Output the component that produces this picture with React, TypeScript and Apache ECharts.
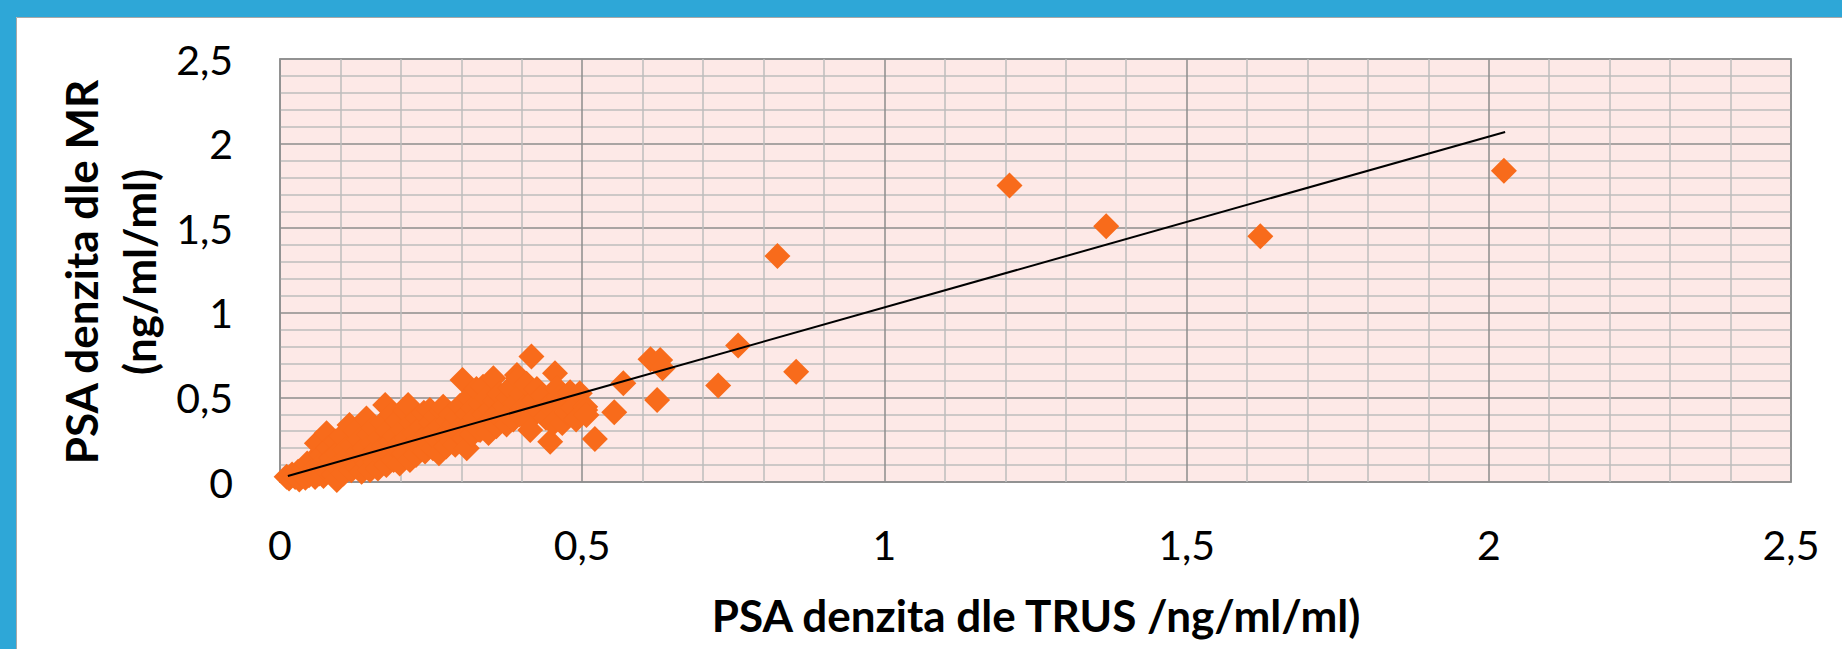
import React, { useEffect, useRef } from "react";
import * as echarts from "echarts";

const xTitle = "PSA denzita dle TRUS /ng/ml/ml)";
const yTitle = "PSA denzita dle MR\n(ng/ml/ml)";

const trusValues: number[] = [
  0.011, 0.015, 0.02, 0.025, 0.03, 0.032, 0.038, 0.04, 0.042, 0.045, 0.048, 0.05,
  0.055, 0.058, 0.06, 0.061, 0.065, 0.068, 0.07, 0.072, 0.075, 0.077, 0.08, 0.082, 0.085, 0.088, 0.09, 0.092, 0.094, 0.095, 0.098, 0.1,
  0.102, 0.105, 0.108, 0.11, 0.112, 0.115, 0.118, 0.12, 0.122, 0.125, 0.128, 0.13, 0.132, 0.135, 0.138, 0.14, 0.143, 0.145, 0.148, 0.149, 0.15,
  0.153, 0.155, 0.158, 0.16, 0.162, 0.165, 0.168, 0.17, 0.172, 0.174, 0.176, 0.178, 0.18, 0.183, 0.185, 0.188, 0.19, 0.193, 0.195, 0.198, 0.2,
  0.203, 0.205, 0.208, 0.21, 0.212, 0.215, 0.218, 0.22, 0.223, 0.225, 0.228, 0.23, 0.233, 0.235, 0.238, 0.24, 0.243, 0.245, 0.248, 0.25,
  0.253, 0.255, 0.258, 0.26, 0.263, 0.265, 0.268, 0.27, 0.272, 0.275, 0.278, 0.28, 0.281, 0.283, 0.285, 0.288, 0.29, 0.293, 0.295, 0.298, 0.3,
  0.302, 0.305, 0.309, 0.31, 0.313, 0.315, 0.318, 0.32, 0.323, 0.325, 0.328, 0.331, 0.333, 0.336, 0.338, 0.34, 0.343, 0.345, 0.348, 0.35,
  0.353, 0.356, 0.358, 0.36, 0.363, 0.365, 0.369, 0.372, 0.375, 0.378, 0.381, 0.383, 0.386, 0.39, 0.392, 0.394, 0.396, 0.4,
  0.403, 0.408, 0.41, 0.414, 0.416, 0.42, 0.425, 0.43, 0.435, 0.44, 0.445, 0.447, 0.452, 0.455, 0.458, 0.462, 0.467, 0.47, 0.475, 0.48, 0.485, 0.49, 0.496,
  0.505, 0.505, 0.507, 0.521, 0.553, 0.568, 0.613, 0.629, 0.633, 0.624, 0.725, 0.758, 0.823, 0.854, 1.207, 1.367, 1.622, 2.025,
];

const mrValues: number[] = [
  0.031, 0.02, 0.045, 0.03, 0.06, 0.015, 0.05, 0.08, 0.025, 0.11, 0.04, 0.065,
  0.13, 0.03, 0.09, 0.229, 0.05, 0.16, 0.11, 0.035, 0.075, 0.288, 0.2, 0.06, 0.14, 0.1, 0.045, 0.24, 0.012, 0.17, 0.08, 0.12,
  0.27, 0.05, 0.19, 0.1, 0.15, 0.337, 0.07, 0.22, 0.13, 0.3, 0.09, 0.18, 0.25, 0.06, 0.14, 0.2, 0.376, 0.11, 0.28, 0.071, 0.16,
  0.23, 0.32, 0.12, 0.19, 0.08, 0.26, 0.15, 0.35, 0.21, 0.455, 0.1, 0.3, 0.17, 0.24, 0.4, 0.13, 0.27, 0.2, 0.36, 0.11, 0.23,
  0.31, 0.17, 0.42, 0.26, 0.455, 0.13, 0.35, 0.22, 0.29, 0.16, 0.38, 0.25, 0.2, 0.33, 0.41, 0.18, 0.28, 0.23, 0.426, 0.35,
  0.2, 0.3, 0.39, 0.25, 0.17, 0.33, 0.42, 0.445, 0.27, 0.21, 0.36, 0.3, 0.288, 0.4, 0.24, 0.34, 0.22, 0.38, 0.29, 0.45, 0.33,
  0.603, 0.26, 0.199, 0.4, 0.5, 0.35, 0.28, 0.44, 0.38, 0.55, 0.31, 0.307, 0.46, 0.563, 0.4, 0.34, 0.5, 0.29, 0.43, 0.37,
  0.613, 0.48, 0.33, 0.41, 0.52, 0.38, 0.386, 0.45, 0.34, 0.5, 0.556, 0.42, 0.37, 0.47, 0.632, 0.613, 0.4, 0.52,
  0.44, 0.58, 0.36, 0.307, 0.741, 0.48, 0.55, 0.42, 0.51, 0.38, 0.45, 0.238, 0.347, 0.642, 0.554, 0.5, 0.349, 0.46, 0.41, 0.53, 0.44, 0.37, 0.524,
  0.445, 0.426, 0.396, 0.254, 0.412, 0.583, 0.725, 0.721, 0.672, 0.485, 0.571, 0.806, 1.335, 0.652, 1.753, 1.511, 1.452, 1.84,
];

const trendX: number[] = [0.013, 2.027];
const trendY: number[] = [0.035, 2.069];

const axisTicks: number[] = [0, 0.5, 1, 1.5, 2, 2.5];

const fmt = (v: number) => String(v).replace(".", ",");

export default function App() {
  const ref = useRef<HTMLDivElement>(null);
  useEffect(() => {
    if (!ref.current) return;
    const chart = echarts.init(ref.current, null, { renderer: "svg" });
    const points = trusValues.map((x, i) => [x, mrValues[i]]);
    const trend = trendX.map((x, i) => [x, trendY[i]]);
    const tickMin = axisTicks[0];
    const tickMax = axisTicks[axisTicks.length - 1];
    const tickStep = axisTicks[1] - axisTicks[0];
    const majorLine = { show: true, lineStyle: { color: "#8c8c8c", width: 1.5 } };
    const minorLine = { show: true, lineStyle: { color: "#bcbcbc", width: 1.5 } };
    chart.setOption({
      animation: false,
      backgroundColor: "#ffffff",
      graphic: [
        { type: "rect", shape: { x: 0, y: 0, width: 1842, height: 17 }, style: { fill: "#2ea7d7" }, z: 10 },
        { type: "rect", shape: { x: 0, y: 0, width: 16, height: 649 }, style: { fill: "#2ea7d7" }, z: 10 },
        { type: "line", shape: { x1: 16.5, y1: 17.5, x2: 1842, y2: 17.5 }, style: { stroke: "#a8a8a8", lineWidth: 1 }, z: 10 },
        { type: "line", shape: { x1: 16.5, y1: 17.5, x2: 16.5, y2: 649 }, style: { stroke: "#a8a8a8", lineWidth: 1 }, z: 10 },
        {
          type: "text",
          x: 1036,
          y: 615,
          style: { text: xTitle, font: "bold 44px Lato", fill: "#000", align: "center", verticalAlign: "middle" },
        },
        {
          type: "text",
          x: 110,
          y: 272,
          rotation: Math.PI / 2,
          style: {
            text: yTitle,
            font: "bold 44px Lato",
            fill: "#000",
            align: "center",
            verticalAlign: "middle",
            lineHeight: 58,
          },
        },
      ],
      grid: {
        left: 280,
        top: 59,
        width: 1511,
        height: 423,
        show: true,
        backgroundColor: "#fde9e7",
        borderColor: "#a3a3a3",
        borderWidth: 2,
      },
      xAxis: {
        type: "value",
        min: tickMin,
        max: tickMax,
        interval: tickStep,
        axisLine: { show: false },
        axisTick: { show: false },
        axisLabel: { color: "#000", fontFamily: "Lato", fontSize: 41, margin: 42, formatter: fmt },
        splitLine: majorLine,
        minorTick: { show: false, splitNumber: 5 },
        minorSplitLine: minorLine,
      },
      yAxis: {
        type: "value",
        min: tickMin,
        max: tickMax,
        interval: tickStep,
        axisLine: { show: false },
        axisTick: { show: false },
        axisLabel: { color: "#000", fontFamily: "Lato", fontSize: 41, margin: 47, formatter: fmt },
        splitLine: majorLine,
        minorTick: { show: false, splitNumber: 5 },
        minorSplitLine: minorLine,
      },
      series: [
        {
          type: "scatter",
          data: points,
          symbol: "diamond",
          symbolSize: 26,
          itemStyle: { color: "#f86b1b", opacity: 1 },
          z: 2,
        },
        {
          type: "line",
          data: trend,
          symbol: "none",
          lineStyle: { color: "#000", width: 2 },
          z: 3,
        },
      ],
    });
    return () => chart.dispose();
  }, []);
  return <div ref={ref} style={{ position: "absolute", left: 0, top: 0, width: 1842, height: 649 }} />;
}
